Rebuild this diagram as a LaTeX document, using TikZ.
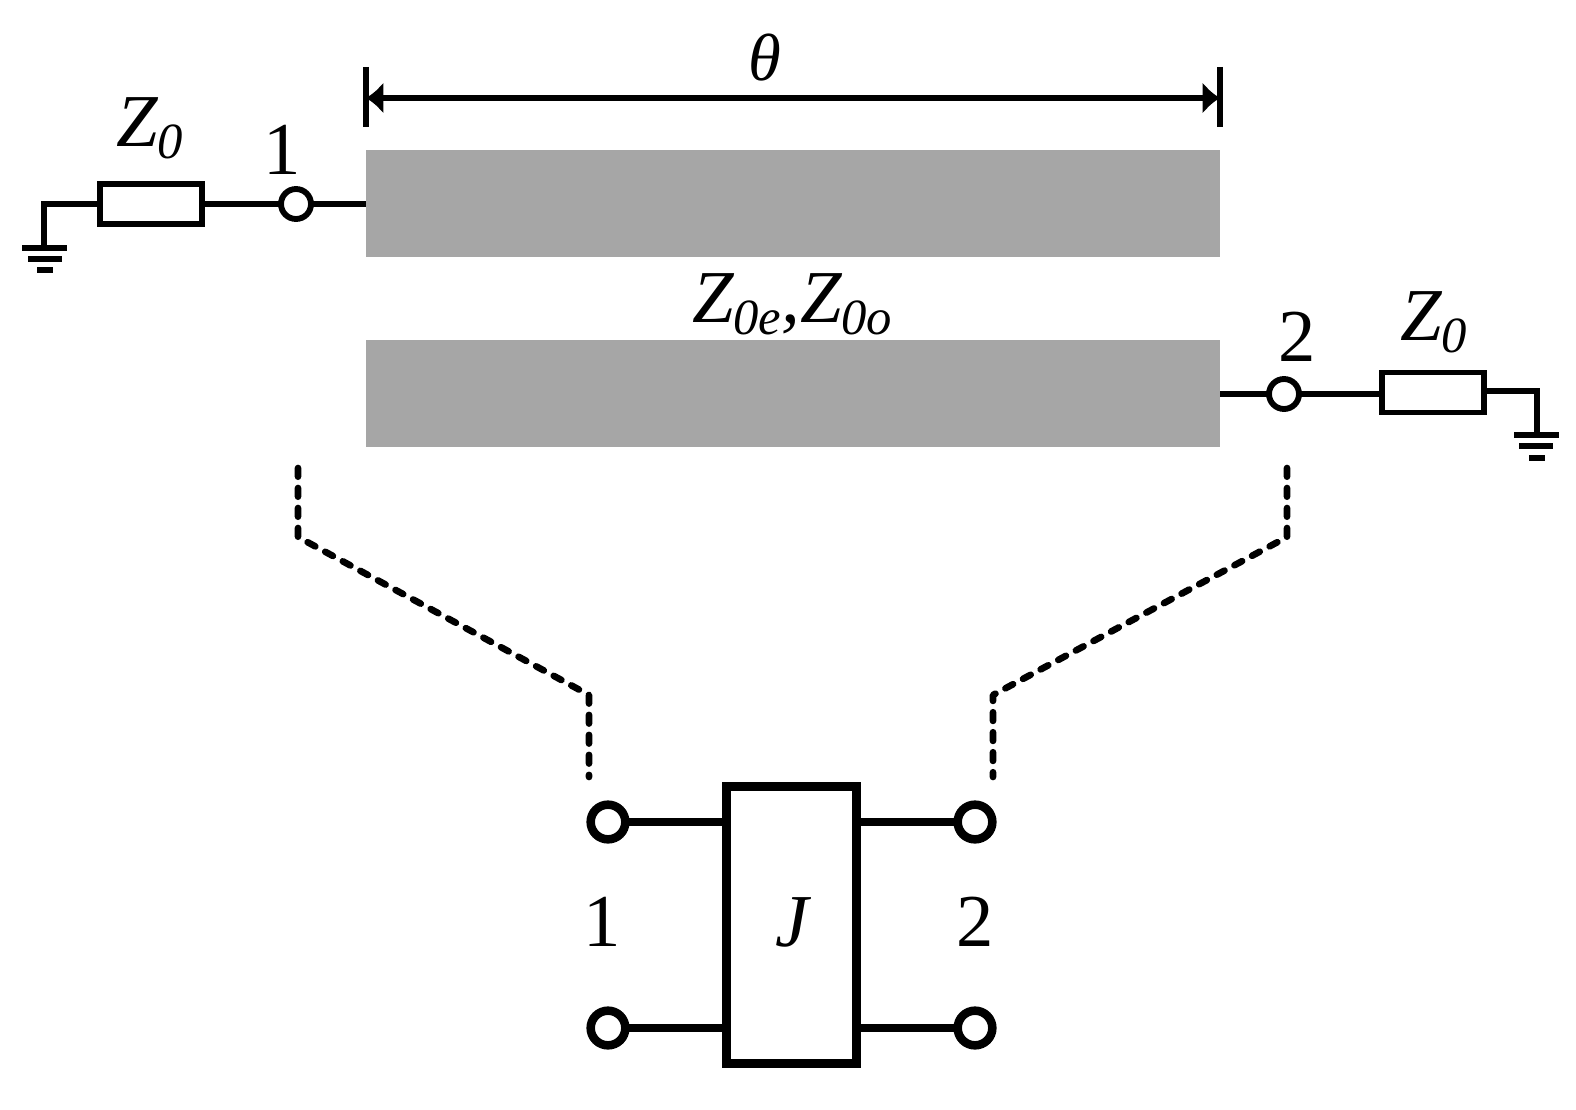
\documentclass[tikz,border=0pt]{standalone}
\usepackage{fontspec}
\setmainfont{Liberation Serif}
\usetikzlibrary{arrows.meta}
\definecolor{stripgray}{HTML}{A6A6A6}
\newcommand{\bigtxt}{\fontsize{56}{60}\selectfont}
\newcommand{\thetatxt}{\fontsize{50}{54}\selectfont}
\newcommand{\midtxt}{\fontsize{56}{60}\selectfont}
\newcommand{\subtxt}[1]{\raisebox{-9pt}{\fontsize{38}{40}\selectfont\itshape #1}}
\tikzset{
  px/.style={x=0.75pt,y=-0.75pt},
  wire/.style={line width=4.4pt},
  fatwire/.style={line width=5.6pt},
  strip/.style={fill=stripgray,draw=none,rectangle,inner sep=0pt,outer sep=0pt,minimum width=640.5pt,minimum height=80.5pt},
  load/.style={draw,line width=4.4pt,rectangle,fill=white,inner sep=0pt,outer sep=0pt,minimum width=76.5pt,minimum height=30pt},
  port/.style={draw,circle,line width=4.4pt,fill=white,inner sep=0pt,outer sep=0pt,minimum size=22.5pt},
  bigport/.style={draw,circle,line width=6.4pt,fill=white,inner sep=0pt,outer sep=0pt,minimum size=26pt},
  jbox/.style={draw,line width=6.8pt,rectangle,fill=white,inner sep=0pt,outer sep=0pt,minimum width=97.5pt,minimum height=208pt},
  lbl/.style={inner sep=0pt,outer sep=0pt},
  gndbar/.style={line width=4.6pt},
  dimtick/.style={line width=3.8pt},
  dashline/.style={line width=5pt,line cap=round,line join=round,dash pattern=on 6.5pt off 8.5pt},
  dim/.style={line width=3.8pt,{Latex[length=13pt,width=24pt]}-{Latex[length=13pt,width=24pt]}}
}
\begin{document}
\begin{tikzpicture}[px]
\useasboundingbox (0,0) rectangle (1576,1109);
% strips
\node[strip] (s1) at (793,203.5) {};
\node[strip] (s2) at (793,393.5) {};
% dimension
\coordinate (t1a) at (366,67); \coordinate (t1b) at (366,127);
\coordinate (t2a) at (1220,67); \coordinate (t2b) at (1220,127);
\coordinate (d1) at (366,98); \coordinate (d2) at (1220,98);
\draw[dimtick] (t1a) -- (t1b);
\draw[dimtick] (t2a) -- (t2b);
\draw[dim] (d1) -- (d2);
\node[lbl] (theta) at (765,58) {\thetatxt\itshape θ};
% left network
\node[load] (r1) at (151,204) {};
\node[port] (p1) at (296,204) {};
\coordinate (g1) at (44,248);
\coordinate (g1c) at (44,204);
\draw[wire] (s1.west |- p1) -- (p1);
\draw[wire] (p1) -- (r1);
\draw[wire,line join=miter] (r1.west) -- (g1c) -- (g1);
\coordinate (g1aL) at (22,248); \coordinate (g1aR) at (67,248);
\coordinate (g1bL) at (28,259); \coordinate (g1bR) at (62,259);
\coordinate (g1cL) at (37,270); \coordinate (g1cR) at (53,270);
\draw[gndbar] (g1aL) -- (g1aR);
\draw[gndbar] (g1bL) -- (g1bR);
\draw[gndbar] (g1cL) -- (g1cR);
\node[lbl,anchor=base west] (z1) at (116,147) {\bigtxt\itshape Z\subtxt{0}};
\node[lbl] (n1) at (282,150) {\bigtxt 1};
% right network
\node[load] (r2) at (1433,392.5) {};
\node[port] (p2) at (1284,394) {};
\coordinate (g2) at (1537,435);
\coordinate (g2c) at (1537,391);
\draw[wire] (s2.east |- p2) -- (p2);
\draw[wire] (p2) -- (r2.west |- p2);
\draw[wire,line join=miter] (r2.east |- g2c) -- (g2c) -- (g2);
\coordinate (g2aL) at (1514,435); \coordinate (g2aR) at (1559,435);
\coordinate (g2bL) at (1519,446); \coordinate (g2bR) at (1553,446);
\coordinate (g2cL) at (1529,458); \coordinate (g2cR) at (1545,458);
\draw[gndbar] (g2aL) -- (g2aR);
\draw[gndbar] (g2bL) -- (g2bR);
\draw[gndbar] (g2cL) -- (g2cR);
\node[lbl,anchor=base west] (z2) at (1400,340) {\bigtxt\itshape Z\subtxt{0}};
\node[lbl] (n2) at (1297,337) {\bigtxt 2};
% middle label
\node[lbl,anchor=base west] (zeo) at (692,322) {\bigtxt\itshape Z\subtxt{0e},Z\subtxt{0o}};
% J inverter
\node[jbox] (J) at (791.5,925) {};
\node[bigport] (a1) at (608,822) {};
\node[bigport] (a2) at (608,1028) {};
\node[bigport] (b1) at (975,822) {};
\node[bigport] (b2) at (975,1028) {};
\draw[fatwire] (a1) -- (J.west |- a1);
\draw[fatwire] (a2) -- (J.west |- a2);
\draw[fatwire] (b1) -- (J.east |- b1);
\draw[fatwire] (b2) -- (J.east |- b2);
\node[lbl] (jl) at (792,922) {\midtxt\itshape J};
\node[lbl] (n3) at (602,922) {\bigtxt 1};
\node[lbl] (n4) at (975,922) {\bigtxt 2};
% dashed guides
\coordinate (da1) at (298,468); \coordinate (da2) at (298,537);
\coordinate (da3) at (589,695); \coordinate (da4) at (589,777);
\coordinate (db1) at (1287,468); \coordinate (db2) at (1287,537);
\coordinate (db3) at (993,695); \coordinate (db4) at (993,777);
\draw[dashline] (da1) -- (da2) -- (da3) -- (da4);
\draw[dashline] (db1) -- (db2) -- (db3) -- (db4);
\end{tikzpicture}
\end{document}
